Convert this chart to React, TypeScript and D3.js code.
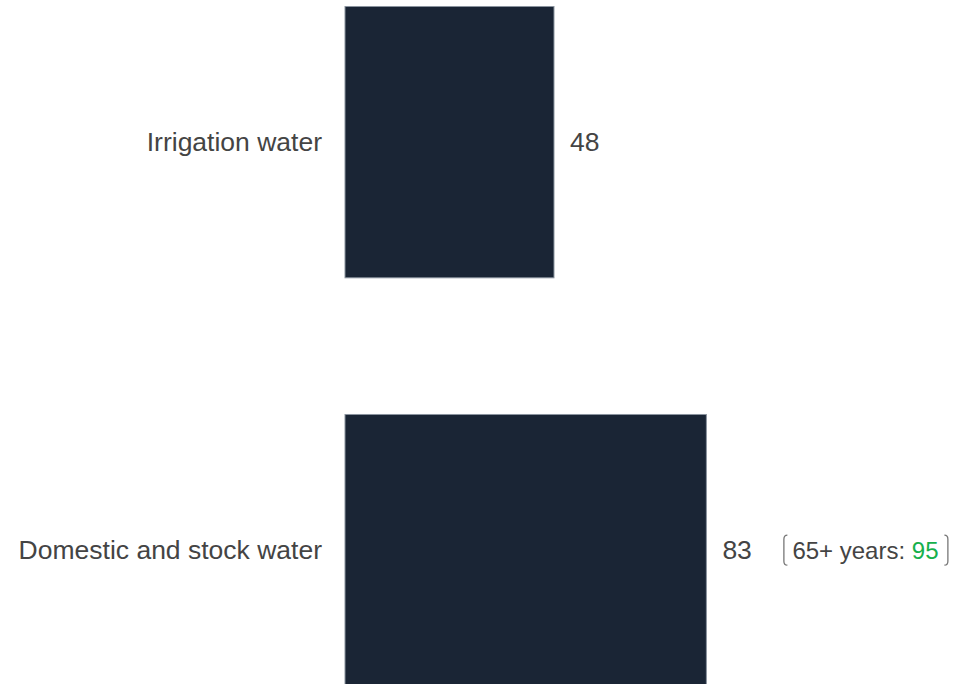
import React from "react";
import * as d3 from "d3";

const categories: string[] = ["Irrigation water", "Domestic and stock water"];
const values: number[] = [48, 83];
const noteLabel = "65+ years: ";
const noteValue = 95;
const noteCategory = "Domestic and stock water";

const WIDTH = 955;
const HEIGHT = 684;

export default function App() {
  const x = d3.scaleLinear().domain([0, 100]).range([345, 780.4]);
  const y = d3
    .scaleBand<string>()
    .domain(categories)
    .range([6.5, 685.8])
    .paddingInner(0.335)
    .paddingOuter(0);

  const font = "'Liberation Sans', Arial, sans-serif";
  const textColor = "#444444";

  return (
    <svg
      width={WIDTH}
      height={HEIGHT}
      style={{ position: "absolute", left: 0, top: 0, display: "block" }}
      fontFamily={font}
    >
      <rect width={WIDTH} height={HEIGHT} fill="#ffffff" />
      {categories.map((c, i) => {
        const y0 = y(c) as number;
        const bw = y.bandwidth();
        const cy = y0 + bw / 2;
        const x1 = x(values[i]);
        const valueX = x1 + 16;
        return (
          <g key={c}>
            <rect
              x={x(0)}
              y={y0}
              width={x1 - x(0)}
              height={bw}
              fill="#1a2535"
              stroke="#8a939e"
              strokeWidth={1}
            />
            <text
              x={x(0) - 23}
              y={cy}
              dy="0.35em"
              textAnchor="end"
              fontSize={26.5}
              fill={textColor}
            >
              {c}
            </text>
            <text x={valueX} y={cy} dy="0.35em" fontSize={26.5} fill={textColor}>
              {values[i]}
            </text>
            {c === noteCategory && (
              <g transform={`translate(${valueX + 60},${cy})`}>
                <path
                  d="M5,-15 Q1.5,-15 1.5,-11 L1.5,11 Q1.5,15 5,15"
                  fill="none"
                  stroke="#777777"
                  strokeWidth={1.3}
                />
                <text x={10} y={0} dy="0.35em" fontSize={24} fill={textColor}>
                  {noteLabel}
                  <tspan fill="#16b04c">{noteValue}</tspan>
                </text>
                <path
                  d="M162,-15 Q165.5,-15 165.5,-11 L165.5,11 Q165.5,15 162,15"
                  fill="none"
                  stroke="#777777"
                  strokeWidth={1.3}
                />
              </g>
            )}
          </g>
        );
      })}
    </svg>
  );
}
